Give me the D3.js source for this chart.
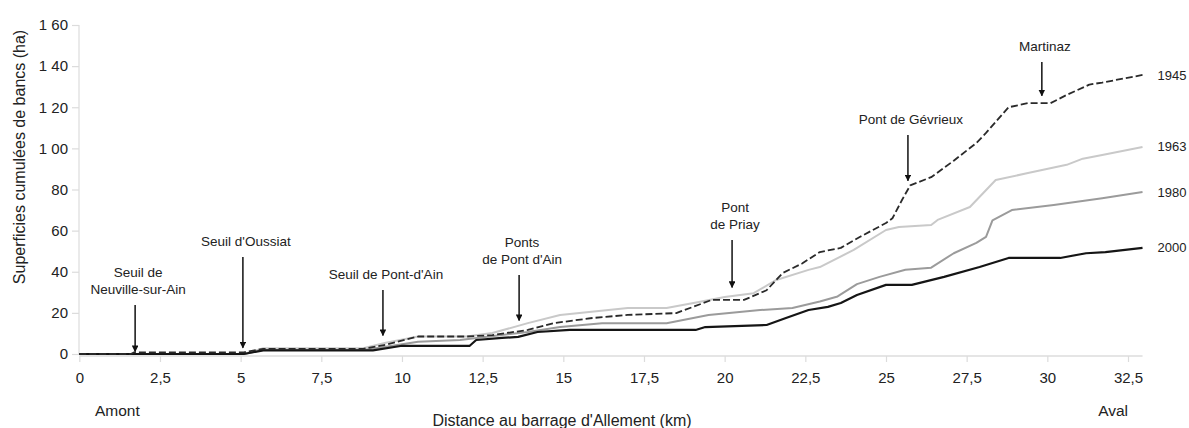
<!DOCTYPE html>
<html>
<head>
<meta charset="utf-8">
<script src="https://cdn.jsdelivr.net/npm/d3@7"></script>
<style>
  html, body { margin: 0; padding: 0; background: #fff; }
  svg { display: block; }
</style>
</head>
<body>
<svg id="chart" width="1189" height="428"></svg>
<script>
// ---------- DATA ----------
const years = ["1945", "1963", "1980", "2000"];

const km1945 = [0, 1.6, 1.7, 5.1, 5.7, 8.8, 9.5, 10.5, 12.0, 12.8, 13.9, 14.7, 15.9, 17.0, 18.5, 19.6, 20.6, 21.3, 21.8, 22.4, 22.95, 23.6, 24.2, 25.0, 25.2, 25.5, 25.75, 26.4, 27.1, 27.8, 28.1, 28.8, 29.4, 30.1, 30.6, 31.3, 31.7, 32.95];
const ha1945 = [0, 0, 0.8, 0.8, 2.5, 2.5, 4.5, 8.5, 8.5, 9.2, 11.7, 15, 17.5, 19, 19.9, 26.3, 26.3, 31, 39.4, 44, 49.6, 51.6, 57, 63.7, 66, 75, 82, 86, 94, 102.6, 107.5, 120, 122, 122, 126, 131, 132, 135.7];

const km1963 = [0, 5.1, 5.7, 8.8, 9.5, 10.5, 12.0, 12.8, 13.9, 14.9, 17.0, 18.2, 19.2, 20.0, 20.9, 21.6, 22.6, 22.95, 24.0, 25.0, 25.4, 26.4, 26.6, 27.6, 28.4, 29.4, 30.6, 31.1, 31.7, 32.95];
const ha1963 = [0, 0, 2.8, 2.8, 5.5, 8.5, 8.5, 10.2, 15, 19, 22.4, 22.4, 25.3, 27.7, 29.6, 36, 40.9, 42.3, 50.6, 60.3, 61.8, 62.7, 65.2, 71.5, 84.6, 88, 92, 95, 96.8, 100.7];

const km1980 = [0, 5.1, 5.7, 8.8, 9.5, 10.5, 11.8, 13.9, 14.9, 16.2, 18.2, 19.5, 21.1, 22.1, 22.95, 23.5, 24.1, 24.8, 25.6, 26.4, 27.1, 27.8, 28.1, 28.3, 28.9, 30.2, 31.7, 32.95];
const ha1980 = [0, 0, 2, 2, 3.5, 6, 6.8, 10.7, 13.1, 15, 15, 19, 21.4, 22.4, 25.5, 28, 34, 37.5, 41, 42, 49, 54, 57, 65, 70, 72.5, 75.8, 78.8];

const km2000 = [0, 5.1, 5.7, 9.1, 10.0, 12.1, 12.3, 13.1, 13.6, 14.2, 15.2, 19.1, 19.4, 21.3, 21.9, 22.6, 23.2, 23.6, 24.1, 25.0, 25.8, 26.8, 27.9, 28.8, 30.4, 31.2, 31.8, 32.95];
const ha2000 = [0, 0, 1.8, 1.8, 4, 4, 6.8, 7.8, 8.3, 10.7, 11.7, 11.7, 13.1, 14.1, 17.5, 21.4, 22.9, 24.8, 28.7, 33.6, 33.6, 37.5, 42.3, 46.7, 46.7, 49, 49.5, 51.6];

const xTicks = [0, 2.5, 5, 7.5, 10, 12.5, 15, 17.5, 20, 22.5, 25, 27.5, 30, 32.5];
const xTickLabels = ["0", "2,5", "5", "7,5", "10", "12,5", "15", "17,5", "20", "22,5", "25", "27,5", "30", "32,5"];
const yTicks = [0, 20, 40, 60, 80, 100, 120, 140, 160];
const yTickLabels = ["0", "20", "40", "60", "80", "1 00", "1 20", "1 40", "1 60"];

// annotations: site name lines, km of the arrow, arrow top and tip (ha)
const siteNames = [["Seuil de", "Neuville-sur-Ain"], ["Seuil d'Oussiat"], ["Seuil de Pont-d'Ain"], ["Ponts", "de Pont d'Ain"], ["Pont", "de Priay"], ["Pont de Gévrieux"], ["Martinaz"]];
const siteKm = [1.73, 5.07, 9.41, 13.63, 20.23, 25.68, 29.83];
const arrowTop = [23.8, 47.2, 31.1, 38.4, 55.4, 106.5, 142];
const arrowTip = [1.2, 3.0, 9.0, 16.3, 32.4, 84.3, 125.6];

const xTitle = "Distance au barrage d'Allement (km)";
const yTitle = "Superficies cumulées de bancs (ha)";
const upstreamLabel = "Amont";
const downstreamLabel = "Aval";

// ---------- CHART ----------
const svg = d3.select("#chart");
const x = d3.scaleLinear().domain([0, 32.5]).range([79.3, 1128]);
const y = d3.scaleLinear().domain([0, 160]).range([354, 25]);

const axisColor = "#dcdcdc";
const font = "'Liberation Sans', Arial, sans-serif";

// x axis
const gx = svg.append("g").attr("transform", "translate(0,356)")
  .call(d3.axisBottom(x).tickValues(xTicks).tickFormat((d, i) => xTickLabels[i]).tickSize(6).tickPadding(10));
gx.select(".domain").remove();
gx.append("line").attr("x1", x(0)).attr("x2", x(32.95)).attr("y1", 0).attr("y2", 0)
  .attr("stroke", axisColor).attr("stroke-width", 1.5);
gx.selectAll(".tick line").attr("stroke", axisColor).attr("stroke-width", 1.2);
gx.selectAll(".tick text").attr("fill", "#222").style("font", `15px ${font}`);

// y axis
const gy = svg.append("g").attr("transform", "translate(79,0)")
  .call(d3.axisLeft(y).tickValues(yTicks).tickFormat((d, i) => yTickLabels[i]).tickSize(7).tickPadding(4));
gy.select(".domain").remove();
gy.append("line").attr("x1", 0).attr("x2", 0).attr("y1", y(160)).attr("y2", y(0))
  .attr("stroke", axisColor).attr("stroke-width", 1.2);
gy.selectAll(".tick line").attr("stroke", axisColor).attr("stroke-width", 1.2);
gy.selectAll(".tick text").attr("fill", "#222").style("font", `15px ${font}`);

// series
const seriesKm = [km1945, km1963, km1980, km2000];
const seriesHa = [ha1945, ha1963, ha1980, ha2000];
const seriesColor = ["#2a2a2a", "#c9c9c9", "#9b9b9b", "#151515"];
const seriesWidth = [1.8, 2, 2, 2.2];
const seriesDash = ["7,3", null, null, null];
const line = d3.line().x(d => x(d[0])).y(d => y(d[1]));

// draw light lines first, dark on top (2000 at the bottom of the stack)
[1, 2, 3, 0].forEach(i => {
  const pts = seriesKm[i].map((k, j) => [k, seriesHa[i][j]]);
  svg.append("path").datum(pts).attr("d", line)
    .attr("fill", "none").attr("stroke", seriesColor[i])
    .attr("stroke-width", seriesWidth[i])
    .attr("stroke-linejoin", "round")
    .attr("stroke-dasharray", seriesDash[i]);
  const last = pts[pts.length - 1];
  svg.append("text").attr("x", x(last[0]) + 15).attr("y", y(last[1]))
    .attr("dy", "0.35em").attr("fill", "#222")
    .style("font", `13px ${font}`).text(years[i]);
});

// annotations
svg.append("defs").append("marker").attr("id", "arr")
  .attr("viewBox", "0 0 10 10").attr("refX", 9).attr("refY", 5)
  .attr("markerWidth", 4.5).attr("markerHeight", 4.5).attr("orient", "auto")
  .append("path").attr("d", "M0,0 L10,5 L0,10 z").attr("fill", "#111");

siteNames.forEach((names, i) => {
  const ax = x(siteKm[i]);
  svg.append("line").attr("x1", ax).attr("x2", ax)
    .attr("y1", y(arrowTop[i])).attr("y2", y(arrowTip[i]))
    .attr("stroke", "#111").attr("stroke-width", 1.5)
    .attr("marker-end", "url(#arr)");
  names.forEach((n, j) => {
    svg.append("text").attr("x", ax + 3).attr("text-anchor", "middle")
      .attr("y", y(arrowTop[i]) - 16 - (names.length - 1 - j) * 17)
      .attr("dy", "0.35em").attr("fill", "#222")
      .style("font", `13.5px ${font}`).text(n);
  });
});

// titles
svg.append("text").attr("transform", "translate(19,157) rotate(-90)")
  .attr("text-anchor", "middle").attr("dy", "0.35em").attr("fill", "#222")
  .style("font", `16px ${font}`).text(yTitle);
svg.append("text").attr("x", 562).attr("y", 420).attr("dy", "0.35em")
  .attr("text-anchor", "middle").attr("fill", "#222")
  .style("font", `16px ${font}`).text(xTitle);
svg.append("text").attr("x", 95).attr("y", 411).attr("dy", "0.35em")
  .attr("fill", "#222").style("font", `15.5px ${font}`).text(upstreamLabel);
svg.append("text").attr("x", 1128).attr("y", 411).attr("dy", "0.35em")
  .attr("text-anchor", "end").attr("fill", "#222").style("font", `15.5px ${font}`).text(downstreamLabel);
</script>
</body>
</html>
